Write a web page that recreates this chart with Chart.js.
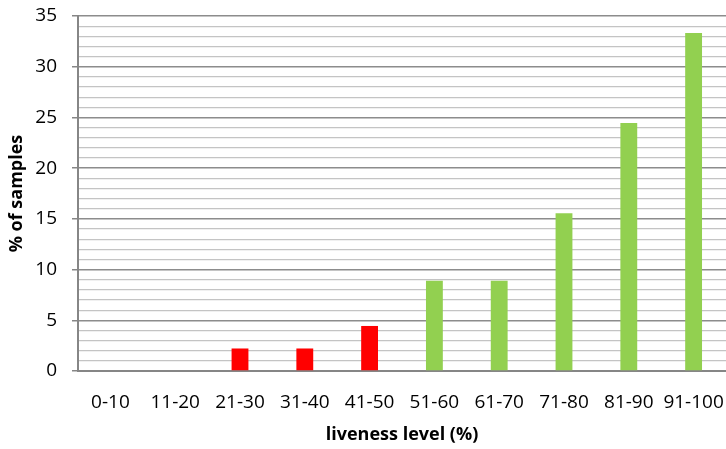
<!DOCTYPE html>
<html>
<head>
<meta charset="utf-8">
<script src="https://cdn.jsdelivr.net/npm/chart.js@4"></script>
<style>
  html, body { margin: 0; padding: 0; background: #fff; }
  #wrap { width: 726px; height: 449px; }
</style>
</head>
<body>
<div id="wrap"><canvas id="chart" width="726" height="449"></canvas></div>
<script>
const categories = ['0-10', '11-20', '21-30', '31-40', '41-50', '51-60', '61-70', '71-80', '81-90', '91-100'];
const samplePercent = [0, 0, 2.22, 2.22, 4.44, 8.89, 8.89, 15.56, 24.44, 33.33];
const barColors = ['#FF0000', '#FF0000', '#FF0000', '#FF0000', '#FF0000', '#92D050', '#92D050', '#92D050', '#92D050', '#92D050'];
const yMax = 35;
const yMajorStep = 5;

const font = 'Open Sans';
const isMajor = (v) => v % yMajorStep === 0;

const ctx = document.getElementById('chart').getContext('2d');
new Chart(ctx, {
    type: 'bar',
    data: {
        labels: categories,
        datasets: [{
            data: samplePercent,
            backgroundColor: barColors,
            borderWidth: 0,
            categoryPercentage: 1,
            barPercentage: 0.26,
        }]
    },
    options: {
        responsive: false,
        animation: false,
        layout: { padding: { top: 16, left: 0, right: 0, bottom: 0 } },
        plugins: {
            legend: { display: false },
            tooltip: { enabled: false }
        },
        scales: {
            x: {
                grid: { display: false },
                border: { color: '#868686', width: 2 },
                ticks: {
                    color: '#000',
                    font: { family: font, size: 19 },
                    padding: 12,
                    autoSkip: false,
                    maxRotation: 0
                },
                title: {
                    display: true,
                    text: 'liveness level (%)',
                    color: '#000',
                    font: { family: font, size: 18, weight: 'bold' },
                    padding: { top: 0, bottom: 3 }
                },
                afterFit: (scale) => {
                    scale.height = 78;
                    scale.paddingLeft = 0;
                    scale.paddingRight = 0;
                }
            },
            y: {
                min: 0,
                max: yMax,
                border: { color: '#868686', width: 2 },
                grid: {
                    color: (c) => isMajor(c.tick.value) ? '#8c8c8c' : '#c4c4c4',
                    tickColor: (c) => isMajor(c.tick.value) ? '#868686' : 'rgba(0,0,0,0)',
                    lineWidth: (c) => isMajor(c.tick.value) ? 1.5 : 1.2,
                    tickLength: 6
                },
                ticks: {
                    stepSize: 1,
                    maxTicksLimit: 40,
                    autoSkip: false,
                    color: '#000',
                    padding: 15,
                    font: { family: font, size: 19 },
                    callback: (v) => isMajor(v) ? v : ''
                },
                title: {
                    display: true,
                    text: '% of samples',
                    color: '#000',
                    font: { family: font, size: 18, weight: 'bold' },
                    padding: { top: 6, bottom: 0 }
                },
                afterFit: (scale) => {
                    scale.width = 78;
                    scale.paddingTop = 0;
                    scale.paddingBottom = 0;
                }
            }
        }
    }
});
</script>
</body>
</html>
